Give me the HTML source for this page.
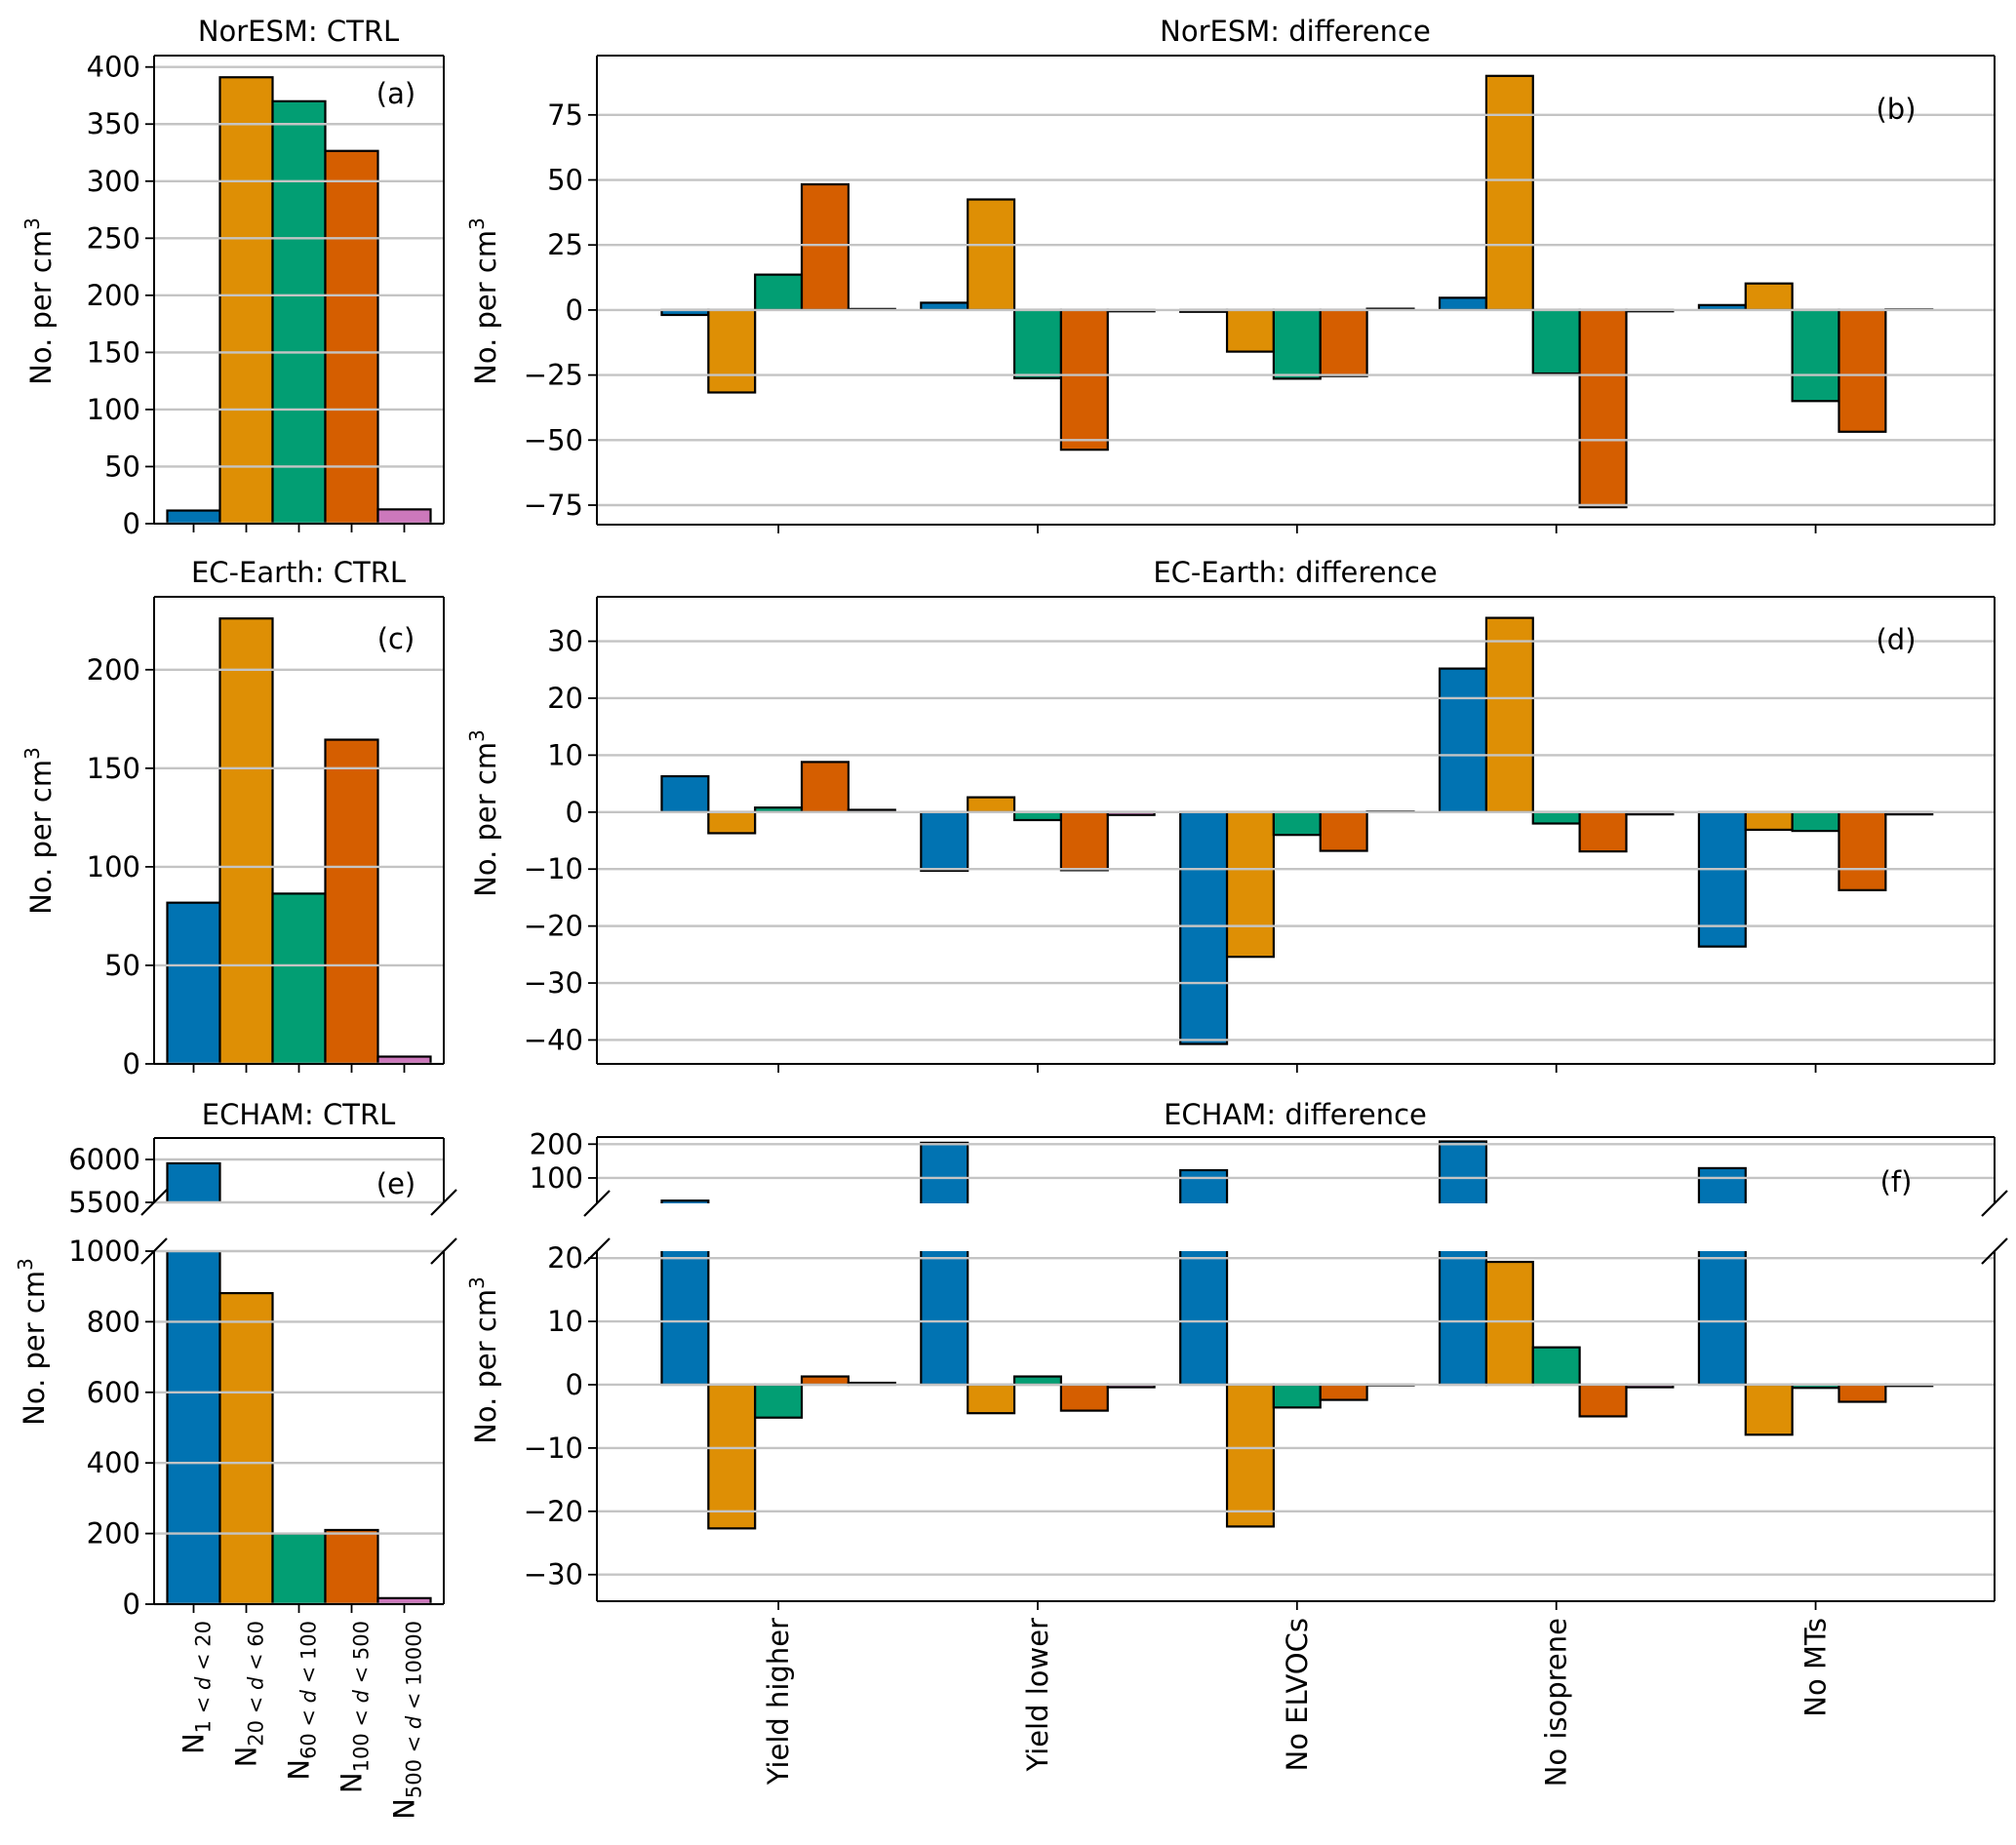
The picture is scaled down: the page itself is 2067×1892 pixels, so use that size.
<!DOCTYPE html>
<html><head><meta charset="utf-8">
<style>
html,body{margin:0;padding:0;background:#fff;}
svg{display:block;font-family:"DejaVu Sans","Liberation Sans",sans-serif;}
</style></head>
<body>
<svg id="fig" width="2067" height="1892" viewBox="0 0 2067 1892" xmlns="http://www.w3.org/2000/svg"></svg>
<script>
// ---- data ----
const sizeBins = ["N1<d<20","N20<d<60","N60<d<100","N100<d<500","N500<d<10000"];
const experiments = ["Yield higher","Yield lower","No ELVOCs","No isoprene","No MTs"];
const noresmCtrl = [11.5, 391, 370, 326.5, 12.5];
const ecearthCtrl = [81.8, 226, 86.4, 164.5, 3.7];
const echamCtrl = [5955, 881, 200, 210, 17];
// difference arrays: one per size bin, values per experiment
const noresmN1 = [-1.9, 2.8, -0.7, 4.7, 1.9];
const noresmN20 = [-31.7, 42.5, -16, 90, 10.2];
const noresmN60 = [13.6, -26.2, -26.4, -24.4, -35];
const noresmN100 = [48.3, -53.7, -25.4, -75.8, -46.8];
const noresmN500 = [0.4, -0.5, 0.5, -0.5, 0.2];
const ecN1 = [6.3, -10.3, -40.7, 25.2, -23.6];
const ecN20 = [-3.7, 2.6, -25.4, 34.1, -3.1];
const ecN60 = [0.8, -1.4, -4, -2, -3.3];
const ecN100 = [8.8, -10.2, -6.8, -6.9, -13.7];
const ecN500 = [0.4, -0.5, 0.1, -0.4, -0.4];
const echamN1 = [33, 204, 123, 208, 129];
const echamN20 = [-22.7, -4.5, -22.4, 19.4, -7.9];
const echamN60 = [-5.2, 1.3, -3.6, 5.9, -0.5];
const echamN100 = [1.3, -4.1, -2.4, -5.0, -2.7];
const echamN500 = [0.3, -0.4, -0.1, -0.4, -0.2];
const ticksA = [0,50,100,150,200,250,300,350,400];
const ticksB = [-75,-50,-25,0,25,50,75];
const ticksC = [0,50,100,150,200];
const ticksD = [-40,-30,-20,-10,0,10,20,30];
const ticksEtop = [5500,6000];
const ticksElow = [0,200,400,600,800,1000];
const ticksFtop = [100,200];
const ticksFlow = [-30,-20,-10,0,10,20];

const colors = ["#0173b2","#de8f05","#029e73","#d55e00","#cc78bc"];
const NS = "http://www.w3.org/2000/svg";
const fig = document.getElementById('fig');
function mk(tag, attrs, parent){
  const e = document.createElementNS(NS, tag);
  for (const k in attrs) e.setAttribute(k, attrs[k]);
  (parent||fig).appendChild(e);
  return e;
}
function fmt(v){ return v<0 ? "\u2212"+Math.abs(v) : String(v); }

// axes factory
function axis(x0,x1,y0,y1,xmin,xmax,ymin,ymax){
  return {x0,x1,y0,y1,
    sx:v=>x0+(v-xmin)/(xmax-xmin)*(x1-x0),
    sy:v=>y1-(v-ymin)/(ymax-ymin)*(y1-y0)};
}
function clipFor(ax,id){
  const cp = mk('clipPath',{id:id});
  mk('rect',{x:ax.x0,y:ax.y0,width:ax.x1-ax.x0,height:ax.y1-ax.y0},cp);
  return 'url(#'+id+')';
}
function drawBars(ax, clip, xs, vals, width, color, name){
  const g = mk('g',{'clip-path':clip});
  
  
  vals.forEach((v,i)=>{
    const yTop = ax.sy(Math.max(v,0)), yBot = ax.sy(Math.min(v,0));
    const xl = ax.sx(xs[i]-width/2), xr = ax.sx(xs[i]+width/2);
    const r = mk('rect',{x:xl,y:yTop,width:xr-xl,height:Math.max(yBot-yTop,0.5),fill:color,stroke:'#000','stroke-width':2.2},g);
    
    
  });
}
function drawGrid(ax, ticks, name, labels){
  const g = mk('g',{});
  
  
  ticks.forEach(t=>{
    const y = ax.sy(t);
    mk('line',{x1:ax.x0,x2:ax.x1,y1:y,y2:y,stroke:'#c4c4c4','stroke-width':2.4},g);
    mk('line',{x1:ax.x0-9,x2:ax.x0,y1:y,y2:y,stroke:'#000','stroke-width':1.8},g);
    if (labels!==false){
      const tx = mk('text',{x:ax.x0-14,y:y+10,'text-anchor':'end','font-size':29,fill:'#000'},g);
      tx.textContent = fmt(t);
    }
  });
}
function spines(ax, sides, name){
  const g = mk('g',{stroke:'#000','stroke-width':2,fill:'none'});
  
  
  if (sides.includes('t')) mk('line',{x1:ax.x0,x2:ax.x1,y1:ax.y0,y2:ax.y0},g);
  if (sides.includes('b')) mk('line',{x1:ax.x0,x2:ax.x1,y1:ax.y1,y2:ax.y1},g);
  if (sides.includes('l')) mk('line',{x1:ax.x0,x2:ax.x0,y1:ax.y0,y2:ax.y1},g);
  if (sides.includes('r')) mk('line',{x1:ax.x1,x2:ax.x1,y1:ax.y0,y2:ax.y1},g);
}
function xticks(ax, positions){
  positions.forEach(p=>{
    const x = ax.sx(p);
    mk('line',{x1:x,x2:x,y1:ax.y1,y2:ax.y1+9,stroke:'#000','stroke-width':1.8});
  });
}
function text(x,y,s,opts,name){
  const t = mk('text',Object.assign({x:x,y:y,'font-size':29,fill:'#000'},opts||{}));
  t.textContent = s;
  
  
  return t;
}
function ylabel(x,y,name){
  const t = mk('text',{x:0,y:0,'font-size':29,'text-anchor':'middle',transform:'translate('+x+','+y+') rotate(-90)'});
  
  
  t.appendChild(document.createTextNode('No. per cm'));
  const s = mk('tspan',{'font-size':20,dy:-12},t); s.textContent='3';
}
function breakMarks(x, y){
  mk('line',{x1:x-13,y1:y+13,x2:x+13,y2:y-13,stroke:'#000','stroke-width':2.2});
}
const catIdx = [0,1,2,3,4];

// ---- CTRL panels ----
function ctrlPanel(ax, vals, ticks, name){
  const cl = clipFor(ax, name+'-clip');
  vals.forEach((v,i)=>drawBars(ax, cl, [i], [v], 1, colors[i], name+'-'+i));
  drawGrid(ax, ticks, name);
}
const axA = axis(158,455,57,537,-0.75,4.75,0,410);
ctrlPanel(axA, noresmCtrl, ticksA, 'noresm-ctrl');
spines(axA,'tblr','noresm-ctrl'); xticks(axA, catIdx);
const axC = axis(158,455,612,1091,-0.75,4.75,0,237);
ctrlPanel(axC, ecearthCtrl, ticksC, 'ecearth-ctrl');
spines(axC,'tblr','ecearth-ctrl'); xticks(axC, catIdx);
const axEt = axis(158,455,1167,1233,-0.75,4.75,5500,6250);
ctrlPanel(axEt, echamCtrl, ticksEtop, 'echam-ctrl-upper');
spines(axEt,'tlr','echam-ctrl-upper');
const axEl = axis(158,455,1283,1645,-0.75,4.75,0,1000);
ctrlPanel(axEl, echamCtrl, ticksElow, 'echam-ctrl-lower');
spines(axEl,'blr','echam-ctrl-lower'); xticks(axEl, catIdx);
breakMarks(158,1233); breakMarks(455,1233); breakMarks(158,1283); breakMarks(455,1283);

// ---- difference panels ----
const barW = 0.18;
function diffPanel(ax, series, ticks, name, showLabels){
  const cl = clipFor(ax, name+'-clip');
  series.forEach((vals,s)=>{
    const xs = experiments.map((_,i)=>i+(s-2)*barW);
    drawBars(ax, cl, xs, vals, barW, colors[s], name+'-'+sizeBins[s]);
  });
  drawGrid(ax, ticks, name, showLabels);
}
const axB = axis(612,2045,57,538,-0.7,4.69,-82.5,97.8);
diffPanel(axB,[noresmN1,noresmN20,noresmN60,noresmN100,noresmN500],ticksB,'noresm-diff');
spines(axB,'tblr','noresm-diff'); xticks(axB, catIdx);
const axD = axis(612,2045,612,1091,-0.7,4.69,-44.2,37.8);
diffPanel(axD,[ecN1,ecN20,ecN60,ecN100,ecN500],ticksD,'ecearth-diff');
spines(axD,'tblr','ecearth-diff'); xticks(axD, catIdx);
const axFt = axis(612,2045,1166,1234,-0.7,4.69,25,221);
diffPanel(axFt,[echamN1,echamN20,echamN60,echamN100,echamN500],ticksFtop,'echam-diff-upper');
spines(axFt,'tlr','echam-diff-upper');
const axFl = axis(612,2045,1283,1642,-0.7,4.69,-34.2,21.1);
diffPanel(axFl,[echamN1,echamN20,echamN60,echamN100,echamN500],ticksFlow,'echam-diff-lower');
spines(axFl,'blr','echam-diff-lower'); xticks(axFl, catIdx);
breakMarks(612,1234); breakMarks(2045,1234); breakMarks(612,1283); breakMarks(2045,1283);

// ---- titles, labels ----
text(306,42,'NorESM: CTRL',{'text-anchor':'middle'},'title-noresm-ctrl');
text(306,597,'EC-Earth: CTRL',{'text-anchor':'middle'},'title-ecearth-ctrl');
text(306,1153,'ECHAM: CTRL',{'text-anchor':'middle'},'title-echam-ctrl');
text(1328,42,'NorESM: difference',{'text-anchor':'middle'},'title-noresm-diff');
text(1328,597,'EC-Earth: difference',{'text-anchor':'middle'},'title-ecearth-diff');
text(1328,1153,'ECHAM: difference',{'text-anchor':'middle'},'title-echam-diff');
text(406,106,'(a)',{'text-anchor':'middle'},'panel-label-a');
text(1944,122,'(b)',{'text-anchor':'middle'},'panel-label-b');
text(406,665,'(c)',{'text-anchor':'middle'},'panel-label-c');
text(1944,666,'(d)',{'text-anchor':'middle'},'panel-label-d');
text(406,1224,'(e)',{'text-anchor':'middle'},'panel-label-e');
text(1944,1222,'(f)',{'text-anchor':'middle'},'panel-label-f');
ylabel(52,309,'y-axis-title-a'); ylabel(508,309,'y-axis-title-b');
ylabel(52,852,'y-axis-title-c'); ylabel(508,834,'y-axis-title-d');
ylabel(45,1376,'y-axis-title-e'); ylabel(508,1395,'y-axis-title-f');

// experiment labels
experiments.forEach((s,i)=>{
  const x = axFl.sx(i);
  const t = mk('text',{x:0,y:0,'font-size':29,'text-anchor':'end',transform:'translate('+(x+10)+',1659) rotate(-90)'});
  t.textContent = s;
  
  
});
// size-bin labels
const binLo = ["1","20","60","100","500"];
const binHi = ["20","60","100","500","10000"];
binLo.forEach((lo,i)=>{
  const x = axEl.sx(i);
  const t = mk('text',{x:0,y:0,'font-size':29,'text-anchor':'end',transform:'translate('+(x+10)+',1662) rotate(-90)'});
  
  
  t.appendChild(document.createTextNode('N'));
  const s1 = mk('tspan',{'font-size':21,dy:7},t); s1.textContent = lo+' < ';
  const s2 = mk('tspan',{'font-size':21,'font-style':'italic'},t); s2.textContent = 'd';
  const s3 = mk('tspan',{'font-size':21},t); s3.textContent = ' < '+binHi[i];
});
</script>
</body></html>
